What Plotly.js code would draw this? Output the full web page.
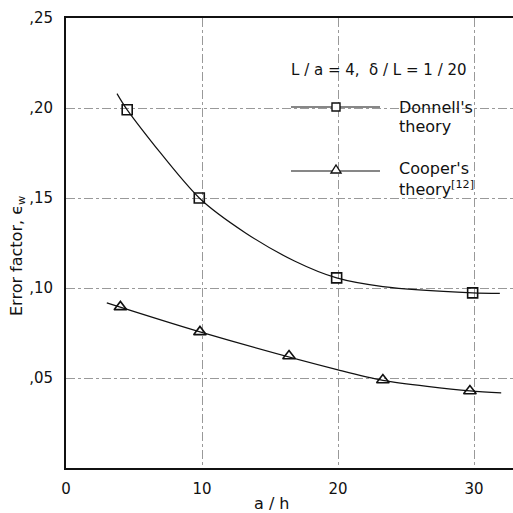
<!DOCTYPE html>
<html>
<head>
<meta charset="utf-8">
<script src="https://cdn.plot.ly/plotly-3.0.1.min.js"></script>
<style>html,body{margin:0;padding:0;background:#fff}#chart{width:513px;height:513px}</style>
</head>
<body>
<div id="chart"></div>
<script>
// Donnell's theory: measured points (squares) and fitted curve
const donnellX = [4.5, 9.8, 19.9, 29.9];
const donnellY = [0.199, 0.150, 0.1056, 0.0973];
const donnellCurveX = [3.75, 4.5, 9.8, 13.2, 16.8, 19.9, 23.3, 29.9, 31.9];
const donnellCurveY = [0.208, 0.199, 0.150, 0.1306, 0.115, 0.1056, 0.1008, 0.0973, 0.0970];

// Cooper's theory: points (triangles) and fitted curve
const cooperX = [4.0, 9.85, 16.4, 23.3, 29.7];
const cooperY = [0.0895, 0.0756, 0.0622, 0.0489, 0.0428];
const cooperCurveX = [3.0, 9.85, 20.0, 23.3, 29.7, 32.0];
const cooperCurveY = [0.0917, 0.0756, 0.0545, 0.0487, 0.0428, 0.0417];

const xTickVals = [0, 10, 20, 30];
const xTickText = ["0", "10", "20", "30"];
const yTickVals = [0.05, 0.10, 0.15, 0.20, 0.25];
const yTickText = [",05", ",10", ",15", ",20", ",25"];

const FONT = "DejaVu Sans, sans-serif";
const curveLine = {color: "#111", width: 1.2, shape: "spline", smoothing: 0.8};

const traces = [
  {x: donnellCurveX, y: donnellCurveY, mode: "lines", line: curveLine, showlegend: false, hoverinfo: "skip"},
  {x: donnellX, y: donnellY, mode: "markers", showlegend: false,
   marker: {symbol: "square-open", size: 10, color: "#111", line: {width: 1.6, color: "#111"}}},
  {x: cooperCurveX, y: cooperCurveY, mode: "lines", line: curveLine, showlegend: false, hoverinfo: "skip"},
  {x: cooperX, y: cooperY, mode: "markers", showlegend: false,
   marker: {symbol: "triangle-up-open", size: 11, color: "#111", line: {width: 1.6, color: "#111"}}}
];

// paper helpers for legend decoration
const L = 66, R = 513, T = 18, B = 468;
const px = X => (X - L) / (R - L);
const py = Y => (B - Y) / (B - T);

const shapes = [
  {type: "line", xref: "paper", yref: "paper", x0: px(291), x1: px(380), y0: py(107), y1: py(107), line: {color: "#111", width: 1.2}},
  {type: "rect", xref: "paper", yref: "paper", x0: px(332), x1: px(340), y0: py(111), y1: py(103), fillcolor: "#fff", line: {color: "#111", width: 1.4}},
  {type: "line", xref: "paper", yref: "paper", x0: px(291), x1: px(380), y0: py(171), y1: py(171), line: {color: "#111", width: 1.2}},
  {type: "path", xref: "paper", yref: "paper",
   path: `M ${px(331)} ${py(173)} L ${px(341)} ${py(173)} L ${px(336)} ${py(165)} Z`,
   fillcolor: "#fff", line: {color: "#111", width: 1.4}}
];

const ann = (X, Y, text, size, opts = {}) => Object.assign({
  xref: "paper", yref: "paper", x: px(X), y: py(Y), text: text, showarrow: false,
  xanchor: "left", yanchor: "middle", font: {family: FONT, size: size, color: "#111"}
}, opts);

const annotations = [
  ann(289, 70, "L / a = 4,  δ / L = 1 / 20", 15),
  ann(397, 107, "Donnell's", 16),
  ann(397, 126, "theory", 16),
  ann(397, 168, "Cooper's", 16),
  ann(397, 188, "theory<sup>[12]</sup>", 16),
  ann(272, 503, "a / h", 16, {xanchor: "center"}),
  ann(17, 256, "Error factor, ϵ<sub>w</sub>", 16, {xanchor: "center", textangle: -90})
];

const layout = {
  width: 513, height: 513,
  margin: {l: L, r: 513 - R, t: T, b: 513 - B},
  paper_bgcolor: "#fff", plot_bgcolor: "#fff",
  font: {family: FONT, size: 15, color: "#111"},
  xaxis: {
    range: [0, (R - L) / 13.6], tickvals: xTickVals, ticktext: xTickText,
    showline: true, linecolor: "#111", linewidth: 2, mirror: true,
    showgrid: true, gridcolor: "#999", gridwidth: 1, griddash: "dashdot",
    zeroline: false, ticks: "", ticklabelstandoff: 6, tickfont: {family: FONT, size: 15, color: "#111"}
  },
  yaxis: {
    range: [0, 0.25], tickvals: yTickVals, ticktext: yTickText,
    showline: true, linecolor: "#111", linewidth: 2,
    showgrid: true, gridcolor: "#999", gridwidth: 1, griddash: "dashdot",
    zeroline: false, ticks: "", ticklabelstandoff: 8, tickfont: {family: FONT, size: 15, color: "#111"}
  },
  shapes: shapes,
  annotations: annotations,
  showlegend: false
};

Plotly.newPlot("chart", traces, layout, {displayModeBar: false, staticPlot: true});
</script>
</body>
</html>
